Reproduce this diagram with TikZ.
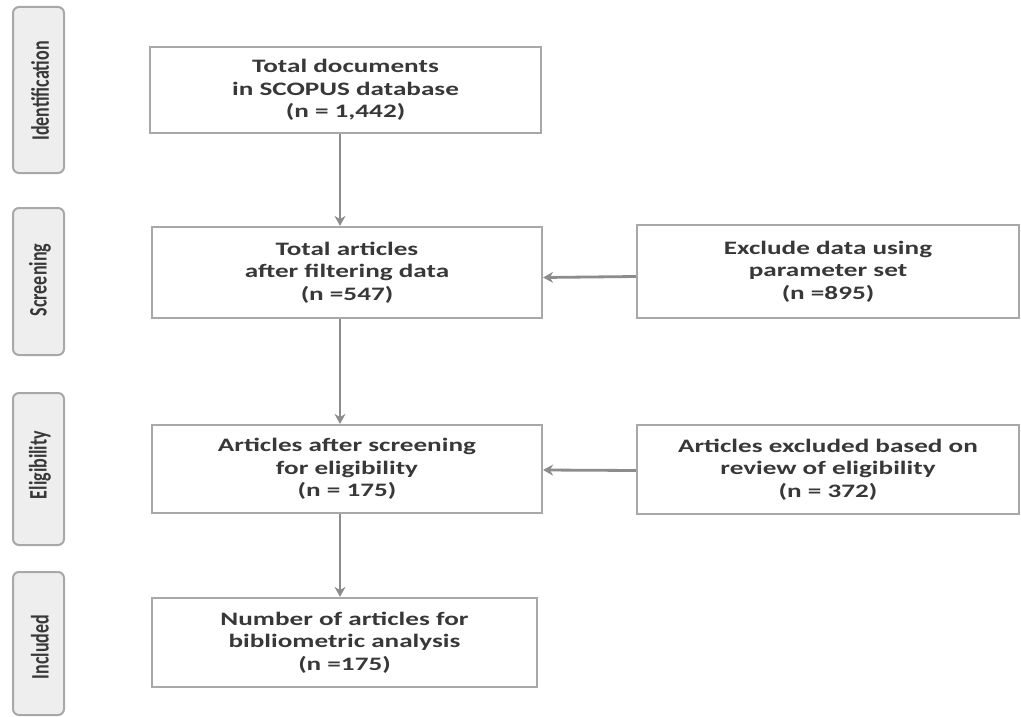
\documentclass[tikz,border=0pt]{standalone}
\usepackage{fontspec}
\usepackage{graphicx}
\setmainfont{Carlito}
\newfontfamily\widefont[FakeStretch=1.43]{Carlito}
\usetikzlibrary{arrows.meta}
\definecolor{txt}{HTML}{383838}
\definecolor{bord}{HTML}{A8A8A8}
\definecolor{arr}{HTML}{8C8C8C}
\definecolor{sidefill}{HTML}{EEEEEE}
\begin{document}
\begin{tikzpicture}[x=1pt,y=-1pt,
 mainbox/.style={draw=bord, line width=2.2pt, fill=white, text=txt, align=center,
   font=\widefont\bfseries\fontsize{19}{22.5}\selectfont, inner sep=0pt},
 sidebox/.style={draw=bord, line width=2pt, rounded corners=6pt, fill=sidefill, inner sep=0pt},
 sidelabel/.style={rotate=90, text=txt, inner sep=0pt, font=\bfseries\fontsize{18}{20}\selectfont},
 flow/.style={draw=arr, line width=2.8pt, -{Stealth[length=10pt,width=11pt]}}]
\useasboundingbox (0,0) rectangle (1021,717);
% side phase boxes
\node[sidebox, minimum width=51, minimum height=166] (s1) at (38.5,90) {};
\node[sidelabel] (l1) at (40,91) {\scalebox{1}[1.4]{Identification}};
\node[sidebox, minimum width=51, minimum height=147] (s2) at (38.5,281.5) {};
\node[sidelabel] (l2) at (40,280) {\scalebox{1}[1.4]{Screening}};
\node[sidebox, minimum width=51, minimum height=152] (s3) at (38.5,469) {};
\node[sidelabel] (l3) at (40,465) {\scalebox{1}[1.4]{Eligibility}};
\node[sidebox, minimum width=51, minimum height=143] (s4) at (38.5,643.5) {};
\node[sidelabel] (l4) at (40,647) {\scalebox{1}[1.4]{Included}};
% main boxes
\node[mainbox, minimum width=391, minimum height=86] (b1) at (345.5,90)
  {Total documents\\in SCOPUS database\\(n = 1,442)};
\node[mainbox, minimum width=390, minimum height=91] (b2) at (347,272.5)
  {Total articles\\after filtering data\\(n =547)};
\node[mainbox, minimum width=390, minimum height=88] (b3) at (347,469)
  {Articles after screening\\for eligibility\\(n = 175)};
\node[mainbox, minimum width=385, minimum height=89] (b4) at (344.5,642.5)
  {Number of articles for\\bibliometric analysis\\(n =175)};
\node[mainbox, minimum width=382, minimum height=93] (r2) at (828,271.5)
  {Exclude data using\\parameter set\\(n =895)};
\node[mainbox, minimum width=382, minimum height=89] (r3) at (828,469.5)
  {Articles excluded based on\\review of eligibility\\(n = 372)};
% connectors
\draw[flow] ([xshift=-5.5pt]b1.south) -- ([xshift=-7pt]b2.north);
\draw[flow] ([xshift=-7pt]b2.south) -- ([xshift=-7pt]b3.north);
\draw[flow] ([xshift=-7pt]b3.south) -- ([xshift=-4.5pt]b4.north);
\draw[flow] ([yshift=-5pt]r2.west) -- ([yshift=-5pt]b2.east);
\draw[flow] ([yshift=-1pt]r3.west) -- ([yshift=-1pt]b3.east);
\end{tikzpicture}
\end{document}
